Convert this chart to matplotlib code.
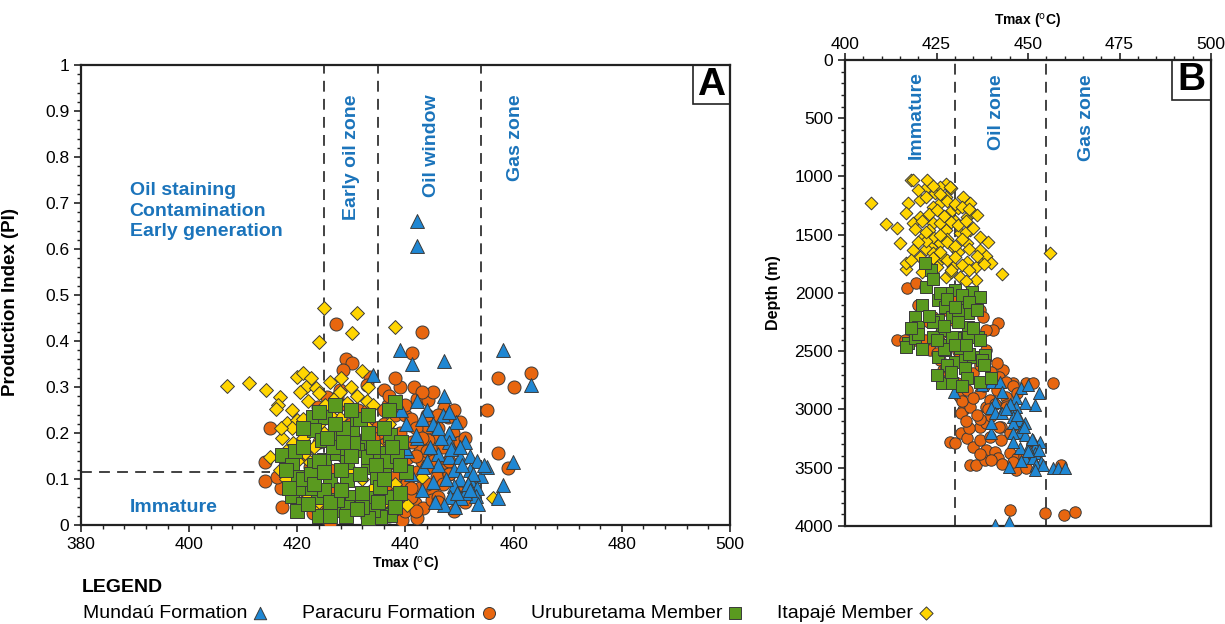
import matplotlib
matplotlib.use("Agg")
import matplotlib.pyplot as plt
from matplotlib.patches import Rectangle
from matplotlib.ticker import MultipleLocator

# ---------------- DATA ----------------
# Panel A : Tmax (degC) vs Production Index
A_mundau_T = [442.1, 442.1, 439, 441.2, 447.1, 458, 463.2, 434, 442.1, 447.1, 439.2, 440.1, 445, 449.4,
              448, 442.1, 448, 440.3, 446, 448, 450, 452, 453.3, 443.3, 449, 452, 454, 445, 450, 452,
              443, 449, 453.3, 448.2, 450.3, 453, 447.1, 449.2, 459.9, 458, 457.1, 442, 440, 446, 451,
              444.5, 447, 444, 451, 455,
              446.5, 448.5, 450.5, 452.5, 454.5, 447.5, 449.5, 451.5, 453.5, 445.5, 444, 446, 448, 450,
              452, 441, 443]
A_mundau_PI = [0.66, 0.607, 0.38, 0.35, 0.357, 0.38, 0.305, 0.325, 0.27, 0.28, 0.25, 0.22, 0.22, 0.224,
               0.20, 0.19, 0.18, 0.16, 0.155, 0.148, 0.148, 0.15, 0.14, 0.126, 0.12, 0.12, 0.107, 0.094,
               0.10, 0.098, 0.076, 0.085, 0.08, 0.06, 0.059, 0.063, 0.043, 0.04, 0.137, 0.087, 0.058,
               0.195, 0.167, 0.13, 0.07, 0.17, 0.24, 0.25, 0.18, 0.125,
               0.19, 0.165, 0.13, 0.11, 0.13, 0.10, 0.07, 0.09, 0.045, 0.05, 0.14, 0.21, 0.245, 0.17,
               0.075, 0.11, 0.23]

A_paracuru_T = [427.2, 443.1, 441.2, 457.1, 460, 463.2, 455.1, 457.1, 459, 415, 414, 414, 417, 417.2,
                429, 430.1, 428.4, 427.9, 427.3, 425.5, 423.8, 429.2, 431.2, 434, 433.4, 432.9, 416.2,
                418.6, 420.5, 422.3, 421.8, 422.9, 424.7, 432.9, 434.7,
                436, 436.8, 438.1, 439.9, 442.1, 444.2, 445.1, 447.1, 447.9, 450.1, 444.2, 445.8, 444.2,
                442.7, 441.2, 438.4, 438.1, 440.3, 443.1, 444.2, 442.1, 439.4, 437.7, 440.3, 442.7,
                444.9, 446.8, 439.4, 441.8, 443.2, 439.5, 442.1, 439.4, 448.8, 449.5, 447.7, 445.8,
                444.9, 440.8, 436.6, 434.9, 435.8, 437.1, 438.1, 438.4, 436, 437, 441, 443, 446, 448,
                435, 436.5, 437.5, 440, 434, 433, 436, 441.5, 444, 430, 428, 426,
                433, 434, 435, 436, 437, 438, 439, 440, 441, 442, 443, 444, 445, 446, 447, 448, 449, 450,
                451, 436, 438, 440, 442, 444, 446, 448, 450, 434, 437, 441, 445, 449, 439, 443, 447, 451,
                435, 438, 442, 446, 419, 425, 427, 426, 421, 424]
A_paracuru_PI = [0.437, 0.42, 0.374, 0.32, 0.30, 0.33, 0.25, 0.157, 0.124, 0.21, 0.137, 0.096, 0.08, 0.04,
                 0.36, 0.352, 0.337, 0.293, 0.278, 0.278, 0.257, 0.26, 0.25, 0.213, 0.322, 0.304, 0.104,
                 0.12, 0.098, 0.126, 0.061, 0.026, 0.017, 0.017, 0.178,
                 0.293, 0.26, 0.24, 0.24, 0.274, 0.272, 0.29, 0.254, 0.235, 0.224, 0.213, 0.191, 0.185,
                 0.17, 0.18, 0.191, 0.163, 0.146, 0.148, 0.126, 0.115, 0.113, 0.135, 0.091, 0.08,
                 0.076, 0.093, 0.065, 0.048, 0.037, 0.028, 0.015, 0.011, 0.20, 0.178, 0.135, 0.104,
                 0.054, 0.217, 0.213, 0.20, 0.174, 0.157, 0.104, 0.076, 0.12, 0.05, 0.06, 0.14, 0.06,
                 0.11, 0.14, 0.09, 0.03, 0.03, 0.06, 0.23, 0.25, 0.30, 0.16, 0.22, 0.20, 0.005,
                 0.25, 0.19, 0.14, 0.22, 0.28, 0.18, 0.20, 0.26, 0.23, 0.21, 0.19, 0.24, 0.16, 0.21, 0.17,
                 0.14, 0.25, 0.18, 0.19, 0.10, 0.06, 0.12, 0.03, 0.09, 0.05, 0.11, 0.07, 0.05, 0.02, 0.08,
                 0.14, 0.03, 0.30, 0.29, 0.09, 0.05, 0.11, 0.32, 0.15, 0.24, 0.06, 0.03, 0.08, 0.12,
                 0.15, 0.18]

A_urub_T = [438, 417.2, 419, 420.1, 419, 421, 422.9, 425.1, 427.3, 430.1, 432.9, 437.1, 439.2, 440.1,
            437.1, 437.1, 435.3, 433.4, 427, 430.1, 423.8, 426, 429.2, 433, 434.7, 423, 425, 427.3,
            429.2, 431, 430.3, 433, 435.3, 435.3, 434, 433, 429.2, 427.3, 425, 422.4, 423, 424.5,
            426.6, 420.2, 421, 418.5, 428, 431.5, 436, 424, 426, 432, 428.5, 431, 436.5, 438.5,
            418, 419.5, 421, 422.5, 424, 425.5, 427, 428.5, 430, 431.5, 433, 434.5, 436, 437.5, 439,
            420, 423, 426, 429, 432, 435, 438, 421, 424, 427, 430, 433, 436, 439, 425, 428, 431, 434,
            422, 437]
A_urub_PI = [0.267, 0.152, 0.13, 0.104, 0.063, 0.046, 0.235, 0.235, 0.19, 0.207, 0.18, 0.195, 0.18, 0.115,
             0.061, 0.022, 0.017, 0.059, 0.033, 0.061, 0.061, 0.098, 0.098, 0.126, 0.104, 0.13, 0.141,
             0.156, 0.137, 0.163, 0.178, 0.148, 0.156, 0.083, 0.033, 0.015, 0.039, 0.054, 0.076, 0.08,
             0.207, 0.185, 0.17, 0.08, 0.10, 0.08, 0.12, 0.11, 0.12, 0.02, 0.02, 0.04, 0.21, 0.23,
             0.14, 0.15,
             0.12, 0.16, 0.21, 0.11, 0.14, 0.19, 0.22, 0.18, 0.15, 0.23, 0.20, 0.13, 0.10, 0.17, 0.07,
             0.03, 0.09, 0.05, 0.02, 0.07, 0.05, 0.04, 0.17, 0.245, 0.26, 0.25, 0.24, 0.21, 0.13, 0.115,
             0.075, 0.035, 0.17, 0.045, 0.25]

A_itapaje_T = [407, 411.1, 414.2, 416.8, 416.5, 416.1, 424.9, 431, 430.1, 424, 438.1, 456.2, 415, 416.8,
               420, 421, 422.5, 421.6, 423.5, 420.5, 422, 432, 433, 432.9, 431, 429.2, 427, 427.9, 424,
               425.1, 418.1, 420, 417.2, 419.2, 421.4, 422.3, 423.8, 440.3, 443.1, 438.1, 437.1, 427,
               427.9, 429.2, 425, 426, 428, 430, 432, 434, 436, 431, 433, 435, 437, 426, 424, 419,
               421, 423, 418, 420, 422, 424,
               419, 421, 418, 420, 426, 428, 430, 434, 436, 438, 417, 423]
A_itapaje_PI = [0.302, 0.309, 0.293, 0.278, 0.26, 0.252, 0.472, 0.461, 0.417, 0.398, 0.43, 0.058, 0.148,
                0.12, 0.322, 0.33, 0.32, 0.30, 0.297, 0.29, 0.27, 0.335, 0.30, 0.27, 0.28, 0.265, 0.276,
                0.29, 0.287, 0.26, 0.222, 0.228, 0.19, 0.178, 0.157, 0.137, 0.03, 0.043, 0.104, 0.135,
                0.178, 0.228, 0.233, 0.21, 0.20, 0.18, 0.15, 0.12, 0.10, 0.08, 0.05, 0.19, 0.21, 0.17,
                0.22, 0.24, 0.22, 0.21, 0.19, 0.17, 0.10, 0.08, 0.06, 0.05,
                0.25, 0.23, 0.16, 0.14, 0.31, 0.32, 0.30, 0.26, 0.14, 0.09, 0.21, 0.12]

# Panel B : Tmax (degC) vs Depth (m)
B_itapaje_T = [407, 411.2, 414.1, 418, 427.7, 429, 434.1, 443, 456.1, 416.6, 416.8, 415, 417.2, 416.8,
               418.6, 420.5, 422.3, 424.5, 425.9, 428.6, 430.8, 433.2, 434.6, 424.1, 427.7, 431.4,
               434.1, 421.4, 423.6, 425.9, 429.5, 433.2, 436.8, 437.7, 435.9, 433.2, 429.5, 425.9,
               422.3, 420.5, 418.6, 427.7, 431.4, 435.9, 424.1, 427.7, 424.1, 420.5, 432.3, 427.7,
               425.9, 422.3, 418.6, 428.6, 426, 430, 428, 423, 431, 433, 426.5, 422, 429, 438.5, 440,
               420, 422, 424, 426, 428, 430, 432, 434, 436, 419, 421, 423, 425, 427, 429, 431, 433, 435,
               437, 439, 422, 424, 426, 428, 430, 432, 434, 418, 420, 422, 424, 426, 428, 430, 432, 434,
               436, 438, 421, 425, 429, 433]
B_itapaje_D = [1230, 1408, 1442, 1030, 1064, 1100, 1225, 1837, 1654, 1794, 1745, 1572, 1230, 1316,
               1400, 1200, 1088, 1144, 1230, 1302, 1273, 1345, 1302, 1400, 1459, 1487, 1459, 1516,
               1602, 1573, 1602, 1573, 1631, 1717, 1774, 1731, 1774, 1717, 1745, 1688, 1631, 1860,
               1860, 1888, 1516, 1345, 1259, 1345, 1173, 1173, 1088, 1030, 1030, 1088, 1400, 1380,
               1540, 1460, 1650, 1480, 1680, 1620, 1820, 1680, 1740,
               1120, 1180, 1080, 1150, 1210, 1240, 1260, 1280, 1330, 1450, 1380, 1320, 1290, 1340, 1390,
               1420, 1380, 1440, 1520, 1560, 1550, 1660, 1500, 1560, 1600, 1540, 1620, 1720, 1560, 1480,
               1700, 1650, 1720, 1690, 1760, 1800, 1680, 1750, 1820, 1780, 1800, 1900]

B_urub_T = [423.6, 421.8, 425.5, 420.9, 419.1, 420, 430, 434.6, 436.8, 432.7, 427.3, 425.5, 429.1, 426.4,
            430.9, 433.6, 433.6, 436.4, 417.3, 416.8, 419.1, 424.1, 427.3, 430, 433.6, 425.5, 427.3,
            430, 432.7, 435, 438.2, 437.3, 432.7, 433.2, 426.4, 429.1, 436.8, 440, 429.1, 428, 431,
            424, 427, 431.5,
            422, 424, 426, 428, 430, 432, 434, 436, 420, 425, 430, 435, 423, 427, 431, 434, 437, 418,
            428, 433, 438, 425, 429, 432, 421]
B_urub_D = [1803, 1745, 2060, 2103, 2203, 2289, 1974, 1988, 2031, 2089, 2118, 2232, 2203, 2318, 2375,
            2289, 2174, 2375, 2432, 2461, 2389, 2375, 2446, 2389, 2375, 2547, 2489, 2590, 2547, 2547,
            2532, 2575, 2647, 2732, 2775, 2775, 2761, 2732, 2375, 2000, 2150, 2250, 2480, 2470,
            1950, 1880, 2000, 2050, 2120, 2020, 2080, 2150, 2350, 2400, 2450, 2300, 2200, 2280, 2250,
            2520, 2400, 2300, 2620, 2450, 2620, 2700, 2680, 2800, 2480]

B_paracuru_T = [417, 419.5, 421.8, 414.1, 416.4, 419.1, 421.8, 423.2, 425.9, 426.8, 428.6, 430.5, 431.4,
                432.3, 431.8, 434.1, 438.6, 436.8, 439.5, 441.4, 444.1, 445.9, 449.5, 451.4, 456.8,
                443.2, 441.4, 438.6, 441.8, 440.5, 436.8, 437.7, 433.2, 435.9, 428.6, 430, 431.8, 433.2,
                435, 436.8, 436.8, 438.6, 439.5, 438.6, 440.9, 441.8, 442.7, 445, 445.9, 446.8, 449.5,
                434.1, 435.9, 438.2, 459.1, 445, 454.7, 459.8, 462.9, 438.6, 435, 430.5, 433.2, 435,
                433.2, 427.7, 425, 424.1, 427.7, 425.9, 430.5, 429.5, 440, 442.5, 447, 437, 434, 444,
                420, 423, 426, 428, 431, 434, 437, 440, 442, 444, 446, 432, 435, 438, 441, 444, 447, 433,
                436, 439, 442, 445, 448, 451, 437, 440, 443, 446, 449]
B_paracuru_D = [1954, 1917, 1946, 2403, 2403, 2403, 2403, 2489, 2575, 2661, 2718, 2775, 2890, 3004,
                3033, 2976, 2976, 2861, 2918, 2833, 2890, 2775, 2775, 2775, 2775, 2661, 2604, 2489,
                2260, 2318, 2146, 2203, 2118, 2060, 3276, 3290, 3204, 3247, 3319, 3262, 3147, 3118,
                3233, 3348, 3362, 3419, 3262, 3376, 3462, 3519, 3505, 3476, 3476, 3433, 3476, 3863,
                3891, 3906, 3877, 2318, 2346, 2403, 2575, 2690, 2833, 2632, 2518, 2203, 2146, 2003,
                2060, 2232, 3060, 3150, 3420, 3080, 3160, 2960,
                2100, 2250, 2350, 2450, 2500, 2550, 2620, 2680, 2720, 2760, 2800, 2930, 2900, 2800, 2950,
                2980, 2860, 3100, 3050, 3000, 3150, 3200, 3150, 3300, 3380, 3430, 3470, 3450, 3400]

B_mundau_T = [429.8, 440, 442.3, 448.2, 450, 452.9, 451.8, 449.1, 446.8, 446.8, 440.9, 440, 442.7, 445.9,
              447.7, 449.1, 445.9, 447.7, 445.9, 449.1, 451.4, 453.2, 451.8, 450, 447.7, 451.8, 449.1,
              451.4, 453.6, 452.3, 454.1, 444.8, 451.8, 456.8, 458.2, 460, 439.8, 439.8, 440.9, 443,
              440.9, 444.8, 437.3, 443, 445, 447, 449, 451, 453, 448, 450, 446, 444]
B_mundau_D = [2847, 2761, 2761, 2818, 2790, 2861, 2961, 2947, 2904, 2976, 2933, 2990, 3033, 3062, 3090,
              3118, 3118, 3190, 3204, 3219, 3262, 3276, 3319, 3333, 3333, 3376, 3419, 3419, 3448, 3476,
              3476, 3491, 3519, 3505, 3505, 3505, 3204, 3118, 3033, 3033, 3991, 3963, 2790, 2850, 2950,
              3050, 3150, 3250, 3350, 3440, 3360, 3280, 3000]

# zone boundaries
A_vlines = [425, 435, 454]
A_imm_PI = 0.115
A_imm_T = 415
B_vlines = [430, 455]

legend_labels = ['Mundaú Formation', 'Paracuru Formation', 'Uruburetama Member', 'Itapajé Member']

# ---------------- STYLE ----------------
plt.rcParams['font.family'] = ['Liberation Sans', 'DejaVu Sans']

C_TRI = '#1f87d3'
C_CIR = '#e8660f'
C_SQ = '#5a9a1f'
C_DIA = '#ffd500'
EDGE = '#3a3a3a'
BLUE_TXT = '#1b74bb'

fig = plt.figure(figsize=(12.25, 6.24), dpi=100)

def style_axes(ax):
    for s in ax.spines.values():
        s.set_linewidth(1.6)
        s.set_color('#222222')
    ax.tick_params(which='major', length=5, width=1.2, labelsize=12.5, color='#222222')
    ax.tick_params(which='minor', length=3, width=1.0, color='#222222')

# ---------------- PANEL A ----------------
axA = fig.add_axes([0.0661, 0.1587, 0.5298, 0.7372])
axA.scatter(A_paracuru_T, A_paracuru_PI, marker='o', s=88, c=C_CIR, edgecolors=EDGE, linewidths=0.7, zorder=3)
axA.scatter(A_itapaje_T, A_itapaje_PI, marker='D', s=50, c=C_DIA, edgecolors=EDGE, linewidths=0.7, zorder=4)
axA.scatter(A_mundau_T, A_mundau_PI, marker='^', s=100, c=C_TRI, edgecolors=EDGE, linewidths=0.7, zorder=5)
axA.scatter(A_urub_T, A_urub_PI, marker='s', s=110, c=C_SQ, edgecolors=EDGE, linewidths=0.7, zorder=6)
for v in A_vlines:
    axA.axvline(v, color='#333333', lw=1.3, ls=(0, (6, 4)), zorder=2)
axA.plot([380, A_imm_T], [A_imm_PI, A_imm_PI], color='#333333', lw=1.3, ls=(0, (6, 4)), zorder=2)
axA.set_xlim(380, 500)
axA.set_ylim(0, 1)
axA.xaxis.set_major_locator(MultipleLocator(20))
axA.xaxis.set_minor_locator(MultipleLocator(4))
axA.yaxis.set_minor_locator(MultipleLocator(0.02))
axA.set_yticks([0, 0.1, 0.2, 0.3, 0.4, 0.5, 0.6, 0.7, 0.8, 0.9, 1.0],
               ['0', '0.1', '0.2', '0.3', '0.4', '0.5', '0.6', '0.7', '0.8', '0.9', '1'])
style_axes(axA)
axA.set_xlabel(r'Tmax ($^{\rm o}$C)', fontsize=10, fontweight='bold', labelpad=2)
axA.set_ylabel('Production Index (PI)', fontsize=13.5, fontweight='bold', labelpad=10)
axA.yaxis.set_label_coords(-0.095, 0.485)

tk = dict(color=BLUE_TXT, fontsize=14, fontweight='bold', rotation=90, ha='center', va='top', zorder=7)
axA.text(430, 0.935, 'Early oil zone', **tk)
axA.text(444.8, 0.935, 'Oil window', **tk)
axA.text(460.3, 0.935, 'Gas zone', **tk)
axA.text(389, 0.745, 'Oil staining\nContamination\nEarly generation', color=BLUE_TXT, fontsize=14,
         fontweight='bold', ha='left', va='top', linespacing=1.25)
axA.text(389, 0.038, 'Immature', color=BLUE_TXT, fontsize=14, fontweight='bold', ha='left', va='center')
axA.add_patch(Rectangle((0.943, 0.915), 0.057, 0.085, transform=axA.transAxes, fill=False,
                        lw=1.2, ec='#222222', zorder=8))
axA.text(0.9715, 0.957, 'A', transform=axA.transAxes, fontsize=28, fontweight='bold',
         ha='center', va='center', zorder=9)

# ---------------- PANEL B ----------------
axB = fig.add_axes([0.6898, 0.1571, 0.2988, 0.7468])
axB.scatter(B_paracuru_T, B_paracuru_D, marker='o', s=68, c=C_CIR, edgecolors=EDGE, linewidths=0.7, zorder=3)
axB.scatter(B_itapaje_T, B_itapaje_D, marker='D', s=42, c=C_DIA, edgecolors=EDGE, linewidths=0.7, zorder=4)
axB.scatter(B_mundau_T, B_mundau_D, marker='^', s=75, c=C_TRI, edgecolors=EDGE, linewidths=0.7, zorder=5)
axB.scatter(B_urub_T, B_urub_D, marker='s', s=85, c=C_SQ, edgecolors=EDGE, linewidths=0.7, zorder=6)
for v in B_vlines:
    axB.axvline(v, color='#333333', lw=1.3, ls=(0, (6, 4)), zorder=2)
axB.set_xlim(400, 500)
axB.set_ylim(4000, 0)
axB.xaxis.tick_top()
axB.xaxis.set_label_position('top')
axB.xaxis.set_major_locator(MultipleLocator(25))
axB.xaxis.set_minor_locator(MultipleLocator(5))
axB.yaxis.set_major_locator(MultipleLocator(500))
axB.yaxis.set_minor_locator(MultipleLocator(100))
style_axes(axB)
axB.tick_params(axis='x', which='both', top=True, bottom=False)
axB.tick_params(axis='x', which='major', pad=1)
axB.set_xlabel(r'Tmax ($^{\rm o}$C)', fontsize=10, fontweight='bold', labelpad=8)
axB.set_ylabel('Depth (m)', fontsize=11.5, fontweight='bold', labelpad=10)
axB.text(419.6, 100, 'Immature', **tk)
axB.text(441.5, 120, 'Oil zone', **tk)
axB.text(466, 120, 'Gas zone', **tk)
axB.add_patch(Rectangle((0.893, 0.914), 0.107, 0.086, transform=axB.transAxes, fill=False,
                        lw=1.2, ec='#222222', zorder=8))
axB.text(0.9465, 0.956, 'B', transform=axB.transAxes, fontsize=28, fontweight='bold',
         ha='center', va='center', zorder=9)

# ---------------- LEGEND (bottom) ----------------
lax = fig.add_axes([0, 0, 1, 1])
lax.set_xlim(0, 1225)
lax.set_ylim(624, 0)
lax.axis('off')
lax.patch.set_alpha(0)
lfs = 14
lax.text(82, 587, 'LEGEND', fontsize=lfs, fontweight='bold', ha='left', va='center')
legend_style = [('^', C_TRI, 80), ('o', C_CIR, 75), ('s', C_SQ, 80), ('D', C_DIA, 45)]
renderer = fig.canvas.get_renderer()
x = 83
for label, (mk, col, sz) in zip(legend_labels, legend_style):
    t = lax.text(x, 613, label, fontsize=lfs, ha='left', va='center')
    bb = t.get_window_extent(renderer=renderer)
    mx = bb.x1 + 13
    lax.scatter([mx], [613], marker=mk, s=sz, c=col, edgecolors=EDGE, linewidths=0.7)
    x = mx + 42

fig.savefig('out.png', dpi=100)
